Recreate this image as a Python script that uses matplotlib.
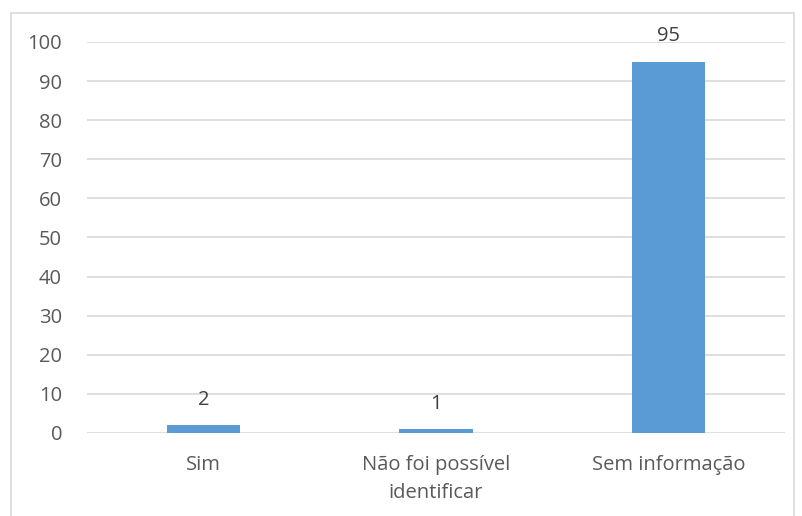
import matplotlib
matplotlib.use("Agg")
import matplotlib.pyplot as plt
from matplotlib.patches import Rectangle

categories = ["Sim", "Não foi possível\nidentificar", "Sem informação"]
values = [2, 1, 95]
yticks = [0, 10, 20, 30, 40, 50, 60, 70, 80, 90, 100]

plt.rcParams['font.family'] = ['Open Sans', 'DejaVu Sans']
text_color = "#595959"
bar_color = "#5B9BD5"
grid_color = "#D9D9D9"

fig = plt.figure(figsize=(8.02, 5.16), dpi=100)
fig.patches.append(Rectangle((11/802, -0.01), (794-11)/802, 1 - 13/516 + 0.01,
                             transform=fig.transFigure, fill=False,
                             edgecolor=grid_color, linewidth=1.2))
ax = fig.add_axes([87/802, (516-433)/516, (785-87)/802, (433-42)/516])

x = list(range(len(categories)))
bars = ax.bar(x, values, width=0.314, color=bar_color, zorder=3)
for xi, v in zip(x, values):
    ax.text(xi, v + 3.9, str(v), ha="center", va="bottom", fontsize=14.5, color="#404040")

ax.set_xlim(-0.5, len(categories) - 0.5)
ax.set_ylim(0, 100)
ax.set_yticks(yticks)
ax.set_yticklabels([str(t) for t in yticks], fontsize=14.5, color=text_color)
ax.set_xticks(x)
ax.set_xticklabels(categories, fontsize=14.5, color=text_color, linespacing=1.5)
ax.tick_params(axis="both", length=0)
ax.tick_params(axis="y", pad=18)
ax.tick_params(axis="x", pad=16)
ax.grid(axis="y", color=grid_color, linewidth=1.2, zorder=0)
for s in ax.spines.values():
    s.set_visible(False)

fig.savefig("out.png", dpi=100)
